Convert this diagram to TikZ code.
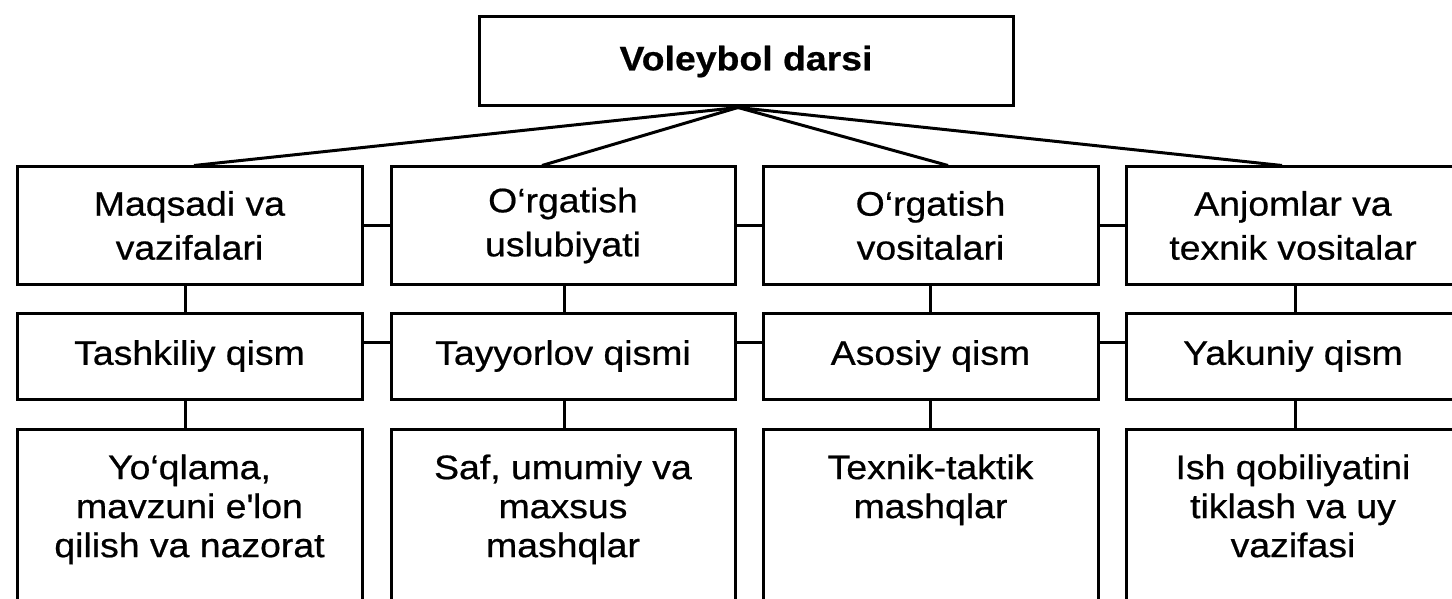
\documentclass[tikz,border=0pt]{standalone}
\usepackage{fontspec}
\setmainfont[FakeStretch=1.1,FakeBold=0.6]{Liberation Sans}
\begin{document}
\begin{tikzpicture}[x=1pt,y=-1pt,
  line width=3pt,
  box/.style={draw, line width=3pt, inner sep=0pt, align=center,
    font=\fontsize{34}{44}\selectfont},
  txt/.style={inner sep=0pt, align=center, font=\fontsize{34}{39}\selectfont},
  conn/.style={line width=3pt}]
\clip (0,0) rectangle (1452,599);
% top
\node[box, minimum width=534pt, minimum height=89pt, font=\fontsize{34}{44}\selectfont\bfseries] (top) at (746,61.5) {\raisebox{2pt}{Voleybol darsi}};
% row 1
\node[box, minimum width=345pt, minimum height=117pt] (a1) at (189.5,225.5) {Maqsadi va\\vazifalari};
\node[box, minimum width=344pt, minimum height=117pt] (b1) at (563,225.5) {O‘rgatish\\uslubiyati};
\node[box, minimum width=335pt, minimum height=117pt] (c1) at (930.5,225.5) {O‘rgatish\\vositalari};
\node[box, minimum width=334pt, minimum height=117pt] (d1) at (1293,225.5) {Anjomlar va\\texnik vositalar};
% row 2
\node[box, minimum width=345pt, minimum height=86pt] (a2) at (189.5,356) {Tashkiliy qism};
\node[box, minimum width=344pt, minimum height=86pt] (b2) at (563,356) {Tayyorlov qismi};
\node[box, minimum width=335pt, minimum height=86pt] (c2) at (930.5,356) {Asosiy qism};
\node[box, minimum width=334pt, minimum height=86pt] (d2) at (1293,356) {Yakuniy qism};
% row 3
\node[box, minimum width=345pt, minimum height=200pt] (a3) at (189.5,529) {};
\node[box, minimum width=344pt, minimum height=200pt] (b3) at (563,529) {};
\node[box, minimum width=335pt, minimum height=200pt] (c3) at (930.5,529) {};
\node[box, minimum width=334pt, minimum height=200pt] (d3) at (1293,529) {};
\node[txt, anchor=north] (a3t) at (189.5,453) {Yo‘qlama,\\mavzuni e\textquotesingle lon\\qilish va nazorat};
\node[txt, anchor=north] (b3t) at (563,453) {Saf, umumiy va\\maxsus\\mashqlar};
\node[txt, anchor=north] (c3t) at (930.5,453) {Texnik-taktik\\mashqlar};
\node[txt, anchor=north] (d3t) at (1293,453) {Ish qobiliyatini\\tiklash va uy\\vazifasi};
% connectors from top
\coordinate (hub) at ([xshift=-8pt]top.south);
\draw[conn] (hub) -- ([xshift=4.5pt]a1.north);
\draw[conn] (hub) -- ([xshift=-21pt]b1.north);
\draw[conn] (hub) -- ([xshift=17.5pt]c1.north);
\draw[conn] (hub) -- ([xshift=-11pt]d1.north);
% horizontal connectors
\draw[conn] (a1.east) -- (b1.west);
\draw[conn] (b1.east) -- (c1.west);
\draw[conn] (c1.east) -- (d1.west);
\draw[conn] ([yshift=14pt]a2.east) -- ([yshift=14pt]b2.west);
\draw[conn] ([yshift=14pt]b2.east) -- ([yshift=14pt]c2.west);
\draw[conn] ([yshift=14pt]c2.east) -- ([yshift=14pt]d2.west);
% vertical connectors
\draw[conn] ([xshift=-4.5pt]a1.south) -- ([xshift=-4.5pt]a2.north);
\draw[conn] ([xshift=1pt]b1.south) -- ([xshift=1pt]b2.north);
\draw[conn] (c1.south) -- (c2.north);
\draw[conn] ([xshift=2pt]d1.south) -- ([xshift=2pt]d2.north);
\draw[conn] ([xshift=-4.5pt]a2.south) -- ([xshift=-4.5pt]a3.north);
\draw[conn] ([xshift=1pt]b2.south) -- ([xshift=1pt]b3.north);
\draw[conn] (c2.south) -- (c3.north);
\draw[conn] ([xshift=2pt]d2.south) -- ([xshift=2pt]d3.north);
\end{tikzpicture}
\end{document}
